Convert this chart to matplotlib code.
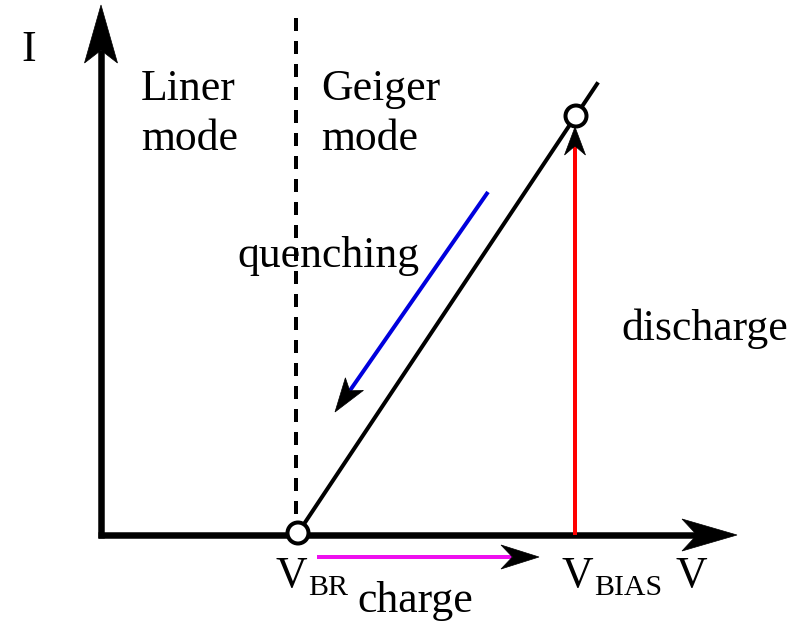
import matplotlib
matplotlib.use("Agg")
import numpy as np
import matplotlib.pyplot as plt
from matplotlib.patches import Circle, Polygon

plt.rcParams['font.family'] = ['Liberation Serif', 'DejaVu Serif']

# ---- diagram geometry (pixel-like units, y downward) ----
origin = (101, 535)
v_axis_tip = (737, 535)
i_axis_tip = (101, 5)
v_br = 296
breakdown_top = 18
iv_line_x = [298, 597]
iv_line_y = [533, 84]
bias_point = (576, 116)
br_point = (298, 533)
quench_start = (488, 192)
quench_end = (335, 412)
charge_start = (317, 557)
charge_end = (539, 557)
discharge_start = (575, 535)
discharge_end = (575, 127)

labels = [
    ("I", 21, 61),
    ("Liner", 141, 100),
    ("mode", 141, 150),
    ("Geiger", 321, 100),
    ("mode", 321, 150),
    ("quenching", 237, 267),
    ("discharge", 621, 340),
    ("charge", 357, 612),
    ("V", 676, 587),
]
sub_labels = [
    ("V", "BR", 275, 308, 587, 595),
    ("V", "BIAS", 561, 594, 587, 595),
]

fig = plt.figure(figsize=(7.99, 6.27), dpi=100)
ax = fig.add_axes([0, 0, 1, 1])
ax.set_xlim(0, 799)
ax.set_ylim(627, 0)
ax.axis("off")

fs = 31.5
px = 72 / 100  # points per pixel


def arrow(p0, tip, color, lw_px, head_len, half_w, notch, z=4):
    p0 = np.array(p0, float)
    tip = np.array(tip, float)
    d = tip - p0
    u = d / np.hypot(*d)
    n = np.array([-u[1], u[0]])
    base = tip - u * head_len
    nb = tip - u * head_len * notch
    ax.plot([p0[0], nb[0]], [p0[1], nb[1]], color=color, lw=lw_px * px,
            solid_capstyle="butt", zorder=z)
    head = Polygon([tip, base + n * half_w, nb, base - n * half_w],
                   closed=True, facecolor="black", edgecolor="black", lw=0.5, zorder=z + 1)
    ax.add_patch(head)


# axes arrows
arrow((origin[0] - 3, origin[1]), v_axis_tip, "black", 6.5, 55, 16, 0.73, z=3)
arrow((origin[0], origin[1] + 3), i_axis_tip, "black", 6.5, 58, 16.5, 0.78, z=3)

# breakdown dashed line
ax.plot([v_br, v_br], [breakdown_top, origin[1]], color="black", lw=4 * px,
        linestyle=(0, (13 / 4, 10 / 4)), zorder=2)

# IV line
ax.plot(iv_line_x, iv_line_y, color="black", lw=4 * px, zorder=3)

# discharge (red), quenching (blue), charge (magenta) arrows
arrow(discharge_start, discharge_end, "#ff0000", 4, 28, 10.5, 0.68)
arrow(quench_start, quench_end, "#0000dd", 4, 34, 11, 0.76)
arrow(charge_start, charge_end, "#ee10ee", 4, 38, 12, 0.7)

# circles
for c in (bias_point, br_point):
    ax.add_patch(Circle(c, 10.5, facecolor="white", edgecolor="black", lw=4 * px, zorder=6))

for t, x, y in labels:
    ax.text(x, y, t, fontsize=fs, ha="left", va="baseline")

for main, sub, x0, x1, y0, y1 in sub_labels:
    ax.text(x0, y0, main, fontsize=fs, ha="left", va="baseline")
    ax.text(x1, y1, sub, fontsize=21.5, ha="left", va="baseline")

fig.savefig("out.png", dpi=100)
